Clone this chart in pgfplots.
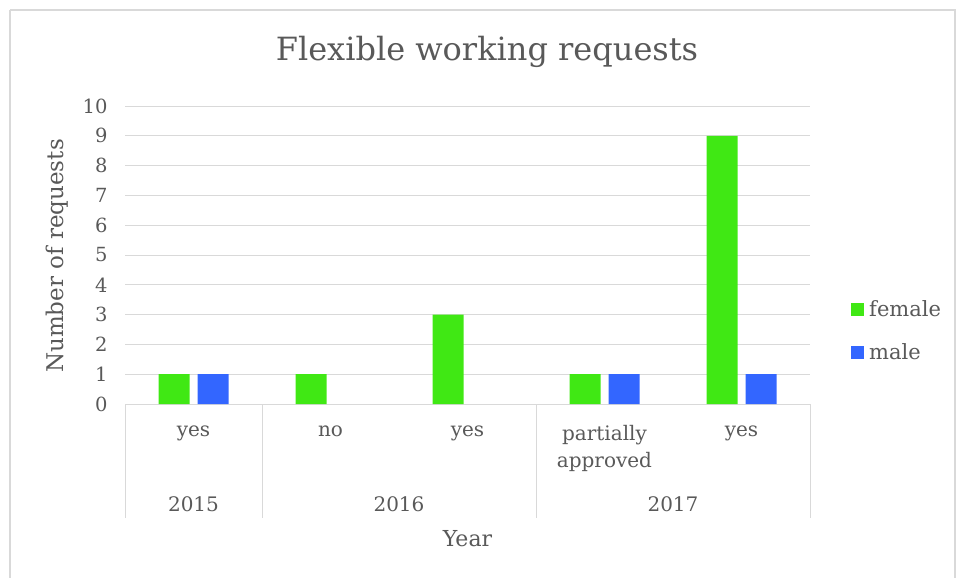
\documentclass[border=0pt]{standalone}
\usepackage{fontspec}
\setmainfont{DejaVu Serif}
\usepackage{pgfplots}
\pgfplotsset{compat=1.18}
\definecolor{fem}{RGB}{64,232,20}
\definecolor{mal}{RGB}{51,102,255}
\definecolor{txt}{RGB}{89,89,89}
\definecolor{grd}{RGB}{217,217,217}
\begin{document}
\begin{tikzpicture}[x=1pt,y=1pt]
\path[use as bounding box] (0,0) rectangle (956,-578);
\draw[grd, line width=1.5pt] (10,-10) -- (955,-10) -- (955,-578) (10,-10) -- (10,-578);
\node[txt, font=\fontsize{32}{38}\selectfont] at (487,-52) {Flexible working requests};
\node[txt, rotate=90, font=\fontsize{23}{27}\selectfont] at (57,-256) {Number of requests};
\begin{axis}[
  at={(125pt,-404pt)}, anchor=south west,
  scale only axis, width=685pt, height=298pt,
  ymin=0, ymax=10, ytick={0,...,10},
  xmin=-0.5, xmax=4.5, xtick=\empty,
  ybar=8pt, bar width=31pt,
  ymajorgrids, grid style={grd, line width=1pt},
  axis x line*=bottom, axis y line*=left,
  x axis line style={grd, line width=1pt, -},
  y axis line style={draw=none},
  major tick length=0pt,
  /pgf/number format/assume math mode=true,
  tick label style={txt, font=\fontsize{19.5}{24}\selectfont},
  yticklabel style={anchor=east, xshift=-14pt},
  clip=false,
  legend style={at={(1.0599,0.245)}, anchor=west, draw=none, fill=none,
    inner sep=0pt, nodes={inner sep=0pt, anchor=west},
    font=\fontsize{21}{25}\selectfont, text=txt, row sep=25pt,
    /tikz/every even column/.append style={column sep=0pt}},
  legend cell align=left,
  legend image code/.code={\fill[#1] (0pt,-6.5pt) rectangle (13pt,6.5pt);},
  legend style={/tikz/every odd column/.append style={column sep=5pt}},
]
\addplot[fill=fem, draw=none] coordinates {(0,1) (1,1) (2,3) (3,1) (4,9)};
\addplot[fill=mal, draw=none] coordinates {(0,1) (3,1) (4,1)};
\legend{female, male}
\foreach \xx in {-0.5,0.5,2.5,4.5} {
  \edef\tmp{\noexpand\draw[grd, line width=1pt] (axis cs:\xx,0) -- ([yshift=-114pt]axis cs:\xx,0);}
  \tmp
}
\begin{scope}[every node/.style={txt, font=\fontsize{20}{27}\selectfont, align=center, anchor=north}]
\node at ([yshift=-18pt]axis cs:0,0) {yes};
\node at ([yshift=-18pt]axis cs:1,0) {no};
\node at ([yshift=-18pt]axis cs:2,0) {yes};
\node at ([yshift=-18pt]axis cs:3,0) {partially\\approved};
\node at ([yshift=-18pt]axis cs:4,0) {yes};
\node at ([yshift=-89pt]axis cs:0,0) {2015};
\node at ([yshift=-89pt]axis cs:1.5,0) {2016};
\node at ([yshift=-89pt]axis cs:3.5,0) {2017};
\node[font=\fontsize{22}{26}\selectfont] at ([yshift=-123pt]axis cs:2,0) {Year};
\end{scope}
\end{axis}
\end{tikzpicture}
\end{document}
